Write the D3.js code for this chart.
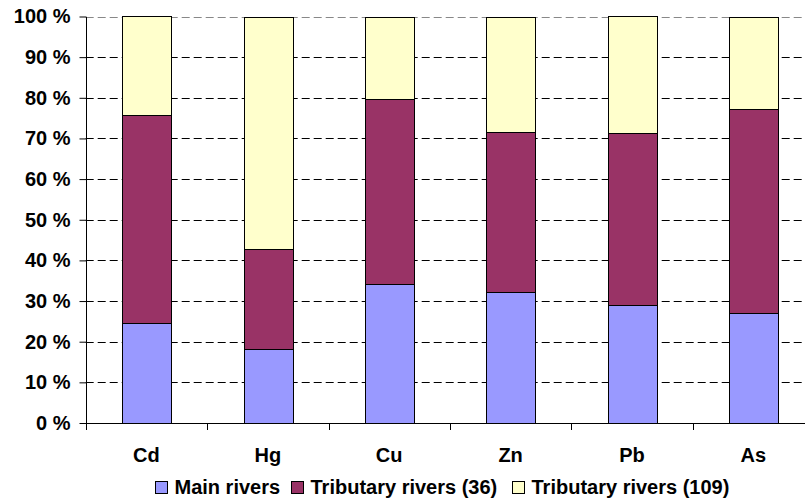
<!DOCTYPE html>
<html>
<head>
<meta charset="utf-8">
<script src="https://cdn.jsdelivr.net/npm/d3@7"></script>
<style>
  html, body { margin: 0; padding: 0; background: #fff; }
  svg { display: block; font-family: Arial, "Liberation Sans", sans-serif; font-weight: bold; }
</style>
</head>
<body>
<svg id="chart" width="805" height="499"></svg>
<script>
// Metals measured in the river loads
const categories = ["Cd", "Hg", "Cu", "Zn", "Pb", "As"];
// Share of total load (%) per group of rivers
const mainRivers      = [24.6, 18.2, 34.1, 32.3, 29.1, 27.1];
const tributary36     = [51.2, 24.6, 45.5, 39.3, 42.2, 50.1];
const tributary109    = [24.2, 57.2, 20.4, 28.4, 28.7, 22.8];
const seriesNames  = ["Main rivers", "Tributary rivers (36)", "Tributary rivers (109)"];
const seriesColors = ["#9999FF", "#993366", "#FFFFCC"];
const yTicks = [0, 10, 20, 30, 40, 50, 60, 70, 80, 90, 100];

const svg = d3.select("#chart");
const plotLeft = 85.7, plotTop = 16.5, plotBottom = 423, plotRight = 814.1;

const rows = categories.map((c, i) => ({
  cat: c,
  "Main rivers": mainRivers[i],
  "Tributary rivers (36)": tributary36[i],
  "Tributary rivers (109)": tributary109[i]
}));

const x = d3.scaleBand().domain(categories).range([plotLeft, plotRight])
  .paddingInner(0.6).paddingOuter(0.3);
const y = d3.scaleLinear().domain([0, 100]).range([plotBottom, plotTop]);
const color = d3.scaleOrdinal().domain(seriesNames).range(seriesColors);

const layers = d3.stack().keys(seriesNames)(rows);

// Dashed gridlines
svg.append("g").selectAll("line")
  .data(yTicks.filter(t => t > 0))
  .join("line")
  .attr("x1", plotLeft).attr("x2", 805)
  .attr("y1", d => Math.round(y(d)) + 0.5).attr("y2", d => Math.round(y(d)) + 0.5)
  .attr("stroke", d => d === 100 ? "#888" : "#000")
  .attr("stroke-width", 1)
  .attr("stroke-dasharray", "8,4");

// Stacked bars
svg.append("g").selectAll("g")
  .data(layers)
  .join("g")
  .attr("fill", d => color(d.key))
  .selectAll("rect")
  .data(d => d)
  .join("rect")
  .attr("x", d => Math.round(x(d.data.cat)) + 0.5)
  .attr("width", Math.round(x.bandwidth()))
  .attr("y", d => Math.round(y(d[1])) + 0.5)
  .attr("height", d => Math.round(y(d[0])) - Math.round(y(d[1])))
  .attr("stroke", "#000")
  .attr("stroke-width", 1);

// Y axis
const yAxis = d3.axisLeft(y).tickValues(yTicks).tickSize(7).tickPadding(9)
  .tickFormat(d => d + " %");
const gy = svg.append("g").attr("transform", `translate(${Math.round(plotLeft) + 0.5},0)`).call(yAxis);
gy.select(".domain").remove();
gy.selectAll(".tick line").attr("stroke", "#000");
gy.selectAll(".tick text").attr("font-size", 20).attr("font-weight", "bold")
  .attr("fill", "#000").attr("font-family", "Arial, 'Liberation Sans', sans-serif");
gy.append("line").attr("x1", 0).attr("x2", 0)
  .attr("y1", Math.round(plotTop)).attr("y2", Math.round(plotBottom) + 7).attr("stroke", "#000");

// X axis: baseline, boundary ticks and category labels
const step = x.step();
const boundaries = d3.range(1, categories.length).map(i => x(categories[i]) - step * x.paddingInner() / 2);
const gx = svg.append("g");
gx.append("line").attr("x1", plotLeft).attr("x2", 805)
  .attr("y1", Math.round(plotBottom) + 0.5).attr("y2", Math.round(plotBottom) + 0.5).attr("stroke", "#000");
gx.selectAll("line.tk").data(boundaries).join("line").attr("class", "tk")
  .attr("x1", d => Math.round(d) + 0.5).attr("x2", d => Math.round(d) + 0.5)
  .attr("y1", Math.round(plotBottom)).attr("y2", Math.round(plotBottom) + 7).attr("stroke", "#000");
gx.selectAll("text").data(categories).join("text")
  .attr("x", d => x(d) + x.bandwidth() / 2)
  .attr("y", 462)
  .attr("text-anchor", "middle")
  .attr("font-size", 20)
  .text(d => d);

// Legend
const legendX = [155.5, 291.5, 512.5];
const lg = svg.append("g").selectAll("g").data(seriesNames).join("g")
  .attr("transform", (d, i) => `translate(${legendX[i]},481.5)`);
lg.append("rect").attr("width", 12).attr("height", 12)
  .attr("fill", d => color(d)).attr("stroke", "#000").attr("stroke-width", 1);
lg.append("text").attr("x", 19).attr("y", 12).attr("font-size", 20).text(d => d);
</script>
</body>
</html>
